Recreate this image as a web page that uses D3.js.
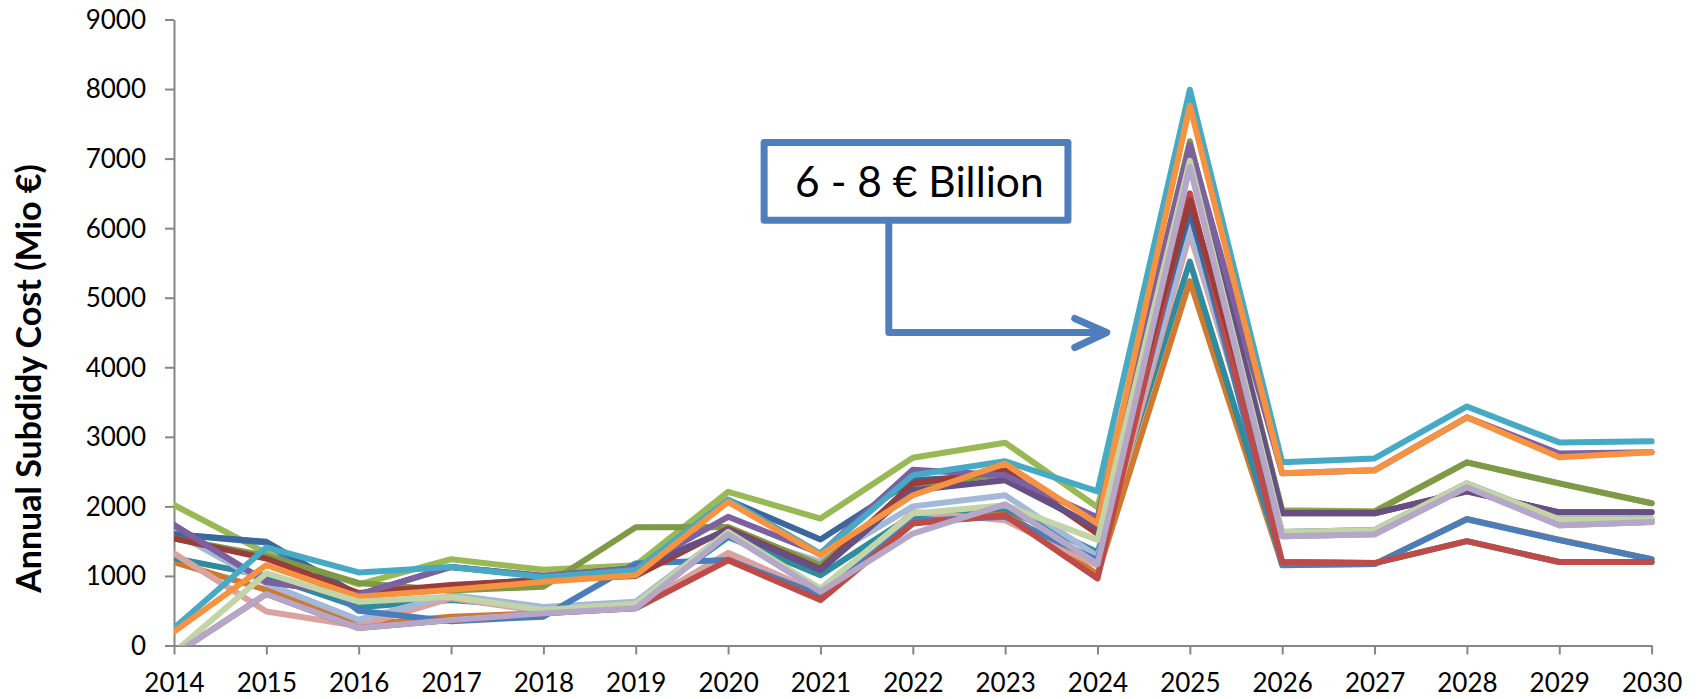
<!DOCTYPE html>
<html>
<head>
<meta charset="utf-8">
<script src="https://cdn.jsdelivr.net/npm/d3@7"></script>
<style>
  html, body { margin: 0; padding: 0; background: #ffffff; }
  svg { display: block; }
</style>
</head>
<body>
<svg id="chart" width="1701" height="699"></svg>
<script>
// Years on the horizontal axis and ticks on the vertical axis
const years = d3.range(2014, 2031);
const yTicks = [0, 1000, 2000, 3000, 4000, 5000, 6000, 7000, 8000, 9000];

// Annual subsidy cost per scenario (Mio €), 2014 … 2030
const run01 = [1200, 800, 295, 415, 465, 540, 1300, 700, 1850, 1920, 1025, 5240, 1160, 1170, 1820, 1520, 1240];
const run02 = [1255, 1000, 550, 655, 550, 600, 1560, 1012, 1873, 1969, 1340, 5520, 1200, 1185, 1500, 1200, 1200];
const run03 = [1325, 490, 280, 680, 490, 540, 1332, 750, 1920, 1800, 1150, 5920, 1570, 1600, 2275, 1730, 1775];
const run04 = [1630, 890, 370, 725, 555, 630, 1633, 1203, 2000, 2160, 1284, 6020, 1570, 1600, 2275, 1730, 1775];
const run05 = [2020, 1330, 880, 1240, 1090, 1155, 2210, 1825, 2700, 2916, 1987, 7040, 1944, 1930, 2633, 2330, 2045];
const run06 = [1600, 1480, 500, 350, 415, 1180, 1230, 725, 1790, 1850, 1226, 6300, 1155, 1170, 1815, 1515, 1240];
const run07 = [1600, 1490, 720, 860, 950, 1050, 2090, 1524, 2375, 2450, 1650, 6235, 1630, 1660, 2330, 1815, 1815];
const run08 = [-130, 740, 250, 365, 465, 535, 1225, 653, 1753, 1873, 964, 6500, 1200, 1185, 1500, 1200, 1200];
const run09 = [1540, 1290, 900, 790, 845, 1700, 1705, 1155, 2290, 2471, 1650, 7250, 1930, 1920, 2633, 2330, 2045];
const run10 = [1540, 1250, 755, 870, 940, 1000, 1680, 1100, 2327, 2518, 1605, 6400, 1900, 1900, 2217, 1915, 1915];
const run11 = [1730, 915, 730, 1130, 1000, 1110, 1660, 1083, 2231, 2375, 1693, 7180, 1900, 1900, 2217, 1915, 1915];
const run12 = [1730, 915, 730, 1130, 1000, 1110, 1850, 1323, 2528, 2447, 1840, 7200, 2475, 2518, 3280, 2760, 2780];
const run13 = [250, 1410, 1050, 1130, 980, 1085, 2097, 1323, 2447, 2648, 2217, 7990, 2633, 2690, 3437, 2920, 2935];
const run14 = [200, 1155, 700, 800, 915, 1010, 2065, 1300, 2160, 2614, 1752, 7760, 2475, 2518, 3280, 2705, 2780];
const run15 = [-100, 1040, 630, 700, 510, 600, 1633, 820, 1897, 2016, 1518, 6970, 1630, 1660, 2330, 1815, 1815];
const run16 = [-130, 740, 250, 365, 465, 535, 1600, 772, 1610, 2030, 1170, 6880, 1570, 1600, 2275, 1730, 1775];

// Stroke colour for each scenario, in drawing order (first drawn at the bottom)
const runColors = [
  "#D07A30", "#2F8C9F", "#D9A3A1", "#A4B8DA", "#98B954", "#4A7EBB", "#3A679C", "#BE4B48",
  "#7E9A47", "#9A3C39", "#664F85", "#7D60A0", "#46AAC5", "#F69240", "#C3D5A6", "#B5A7C8"
];
const runs = [run01, run02, run03, run04, run05, run06, run07, run08,
              run09, run10, run11, run12, run13, run14, run15, run16];

// Callout text and the data point its arrow points to
const calloutText = "6 - 8 € Billion";
const calloutBox = { x0: 2020.39, x1: 2023.68, y0: 7232, y1: 6113 };
const calloutElbowX = 2021.74;
const calloutTip = { year: 2024.1, value: 4500 };

const svg = d3.select("#chart");
const x = d3.scaleLinear().domain([2014, 2030]).range([174, 1651.6]);
const y = d3.scaleLinear().domain([0, 9000]).range([645.5, 19.5]);

const axisColor = "#868686";
const tickFont = "Lato, 'Open Sans', sans-serif";

// Y axis
const gy = svg.append("g")
  .attr("transform", `translate(${x(2014)},0)`)
  .call(d3.axisLeft(y).tickValues(yTicks).tickSize(9).tickSizeOuter(0).tickPadding(19).tickFormat(d3.format("d")));
gy.select(".domain").attr("stroke", axisColor).attr("stroke-width", 2);
gy.selectAll(".tick line").attr("stroke", axisColor).attr("stroke-width", 2);
gy.selectAll(".tick text").attr("font-family", tickFont).attr("font-size", 26).attr("fill", "#000").attr("dy", "0.34em");

// X axis
const gx = svg.append("g")
  .attr("transform", `translate(0,${y(0)})`)
  .call(d3.axisBottom(x).tickValues(years).tickSize(9).tickSizeOuter(0).tickFormat(d3.format("d")));
gx.select(".domain").attr("stroke", axisColor).attr("stroke-width", 2);
gx.selectAll(".tick line").attr("stroke", axisColor).attr("stroke-width", 2);
gx.selectAll(".tick text").attr("font-family", tickFont).attr("font-size", 26).attr("fill", "#000")
  .attr("y", 46).attr("dy", 0);

// Y axis title
svg.append("text")
  .attr("transform", `translate(41,${(y(0) + y(9000)) / 2 + 46}) rotate(-90)`)
  .attr("text-anchor", "middle")
  .attr("font-family", tickFont)
  .attr("font-weight", "bold")
  .attr("font-size", 34)
  .attr("fill", "#000")
  .text("Annual Subdidy Cost (Mio €)");

// Plot-area clip, so values below zero are cut at the axis
svg.append("clipPath").attr("id", "plotClip")
  .append("rect")
  .attr("x", x(2014)).attr("y", 0)
  .attr("width", 1701 - x(2014)).attr("height", y(0));

const line = d3.line().x((d, i) => x(years[i])).y(d => y(d));

svg.append("g").attr("clip-path", "url(#plotClip)")
  .selectAll("path")
  .data(runs)
  .join("path")
  .attr("d", d => line(d))
  .attr("fill", "none")
  .attr("stroke", (d, i) => runColors[i])
  .attr("stroke-width", 6)
  .attr("stroke-linejoin", "round")
  .attr("stroke-linecap", "round");

// Callout box with elbow arrow
const calloutColor = "#4E7FBC";
const bx0 = x(calloutBox.x0), bx1 = x(calloutBox.x1);
const by0 = y(calloutBox.y0), by1 = y(calloutBox.y1);
const g = svg.append("g");
g.append("rect")
  .attr("x", bx0).attr("y", by0)
  .attr("width", bx1 - bx0).attr("height", by1 - by0)
  .attr("fill", "#fff")
  .attr("stroke", calloutColor).attr("stroke-width", 7)
  .attr("stroke-linejoin", "round");
g.append("text")
  .attr("x", bx0 + 31).attr("y", by0 + 55)
  .attr("font-family", tickFont)
  .attr("font-size", 42.5)
  .attr("fill", "#000")
  .text(calloutText);

const ex = x(calloutElbowX);
const tx = x(calloutTip.year), ty = y(calloutTip.value);
g.append("path")
  .attr("d", `M${ex},${by1 + 3.5} L${ex},${ty} L${tx - 3},${ty}`)
  .attr("fill", "none")
  .attr("stroke", calloutColor).attr("stroke-width", 7)
  .attr("stroke-linejoin", "round").attr("stroke-linecap", "round");
g.append("path")
  .attr("d", `M${tx - 32},${ty - 14} L${tx},${ty} L${tx - 32},${ty + 15}`)
  .attr("fill", "none")
  .attr("stroke", calloutColor).attr("stroke-width", 7)
  .attr("stroke-linejoin", "round").attr("stroke-linecap", "round");
</script>
</body>
</html>
